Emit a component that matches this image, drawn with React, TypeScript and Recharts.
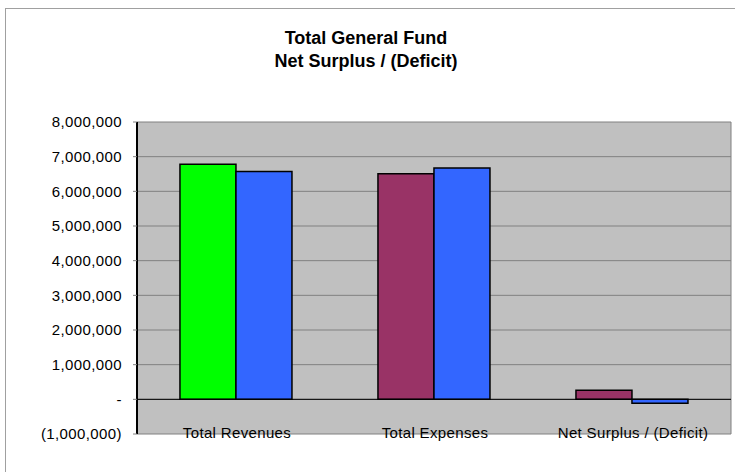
import React from "react";
import { BarChart, Bar, XAxis, YAxis, CartesianGrid, ReferenceLine, Cell } from "recharts";

const categories = ["Total Revenues", "Total Expenses", "Net Surplus / (Deficit)"];
const seriesA = [6780000, 6510000, 260000];
const seriesB = [6570000, 6670000, -110000];
const colorsA = ["#00FF00", "#993366", "#993366"];
const colorB = "#3366FF";
const yTicks = [-1000000, 0, 1000000, 2000000, 3000000, 4000000, 5000000, 6000000, 7000000, 8000000];
const titleLines = ["Total General Fund", "Net Surplus / (Deficit)"];

const data = categories.map((name, i) => ({ name, a: seriesA[i], b: seriesB[i] }));

const FONT = "'Liberation Sans', Arial, sans-serif";

const fmt = (v: number) => {
  if (v === 0) return "-";
  const s = Math.abs(v).toLocaleString("en-US");
  return v < 0 ? `(${s})` : s;
};

const XTick = (props: any) => {
  const { x, y, payload } = props;
  return (
    <text x={x + 1} y={y + 4} textAnchor="middle" fontSize={15} letterSpacing={0.35} fontFamily={FONT} fill="#000">
      {payload.value}
    </text>
  );
};

export default function App() {
  return (
    <div style={{ position: "absolute", left: 0, top: 0, width: 735, height: 472, overflow: "hidden", background: "#fff" }}>
      <div style={{ position: "absolute", left: 5, top: 8, width: 800, height: 600, border: "1px solid #A0A0A0" }} />
      <div style={{ position: "absolute", left: 0, top: 0 }}>
        <BarChart
          width={735}
          height={472}
          data={data}
          margin={{ top: 122, left: 0, right: 4, bottom: 0 }}
          barCategoryGap="21.7%"
          barGap={0}
        >
          <text x={366} y={44} textAnchor="middle" fontSize={18} fontWeight="bold" fontFamily={FONT} fill="#000">
            {titleLines[0]}
          </text>
          <text x={366} y={67} textAnchor="middle" fontSize={18} fontWeight="bold" fontFamily={FONT} fill="#000">
            {titleLines[1]}
          </text>
          <CartesianGrid
            vertical={true}
            verticalPoints={[731]}
            horizontal={true}
            stroke="#808080"
            fill="#C0C0C0"
            fillOpacity={1}
          />
          <XAxis
            dataKey="name"
            height={38}
            axisLine={false}
            tickLine={false}
            tickSize={0}
            tickMargin={0}
            interval={0}
            tick={<XTick />}
          />
          <YAxis
            width={137}
            domain={[-1000000, 8000000]}
            ticks={yTicks}
            tickFormatter={fmt}
            axisLine={{ stroke: "#000", strokeWidth: 2 }}
            tickLine={{ stroke: "#808080" }}
            tickSize={4}
            tickMargin={11}
            interval={0}
            tick={{ fontSize: 15, fontFamily: FONT, fill: "#000", letterSpacing: 0.4 }}
          />
          <ReferenceLine y={0} stroke="#000" strokeWidth={1} />
          <Bar dataKey="a" stroke="#000" strokeWidth={1.5} isAnimationActive={false}>
            {data.map((d, i) => (
              <Cell key={d.name} fill={colorsA[i]} />
            ))}
          </Bar>
          <Bar dataKey="b" fill={colorB} stroke="#000" strokeWidth={1.5} isAnimationActive={false} />
        </BarChart>
      </div>
    </div>
  );
}
